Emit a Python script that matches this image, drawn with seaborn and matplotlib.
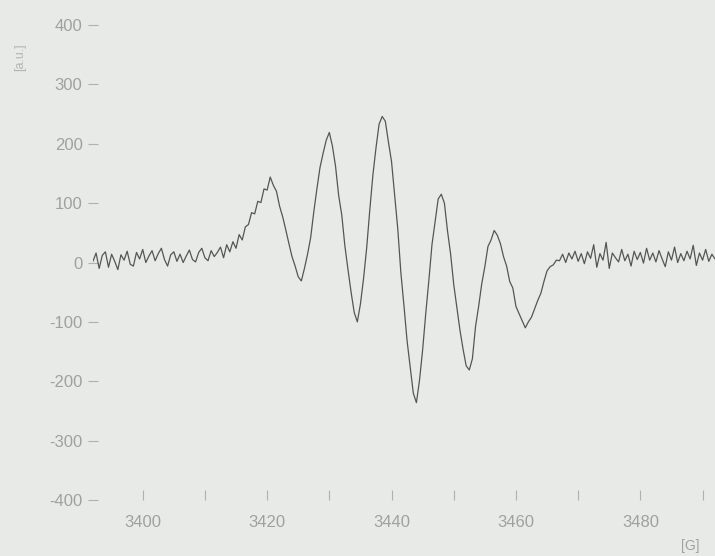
import numpy as np
import pandas as pd
import seaborn as sns
import matplotlib
matplotlib.use("Agg")
import matplotlib.pyplot as plt

# EPR first-derivative spectrum, sampled every 0.5 G from 3392 G to 3492 G
field_start = 3392.0
field_step = 0.5

intensity = [
    # 3392.0 - 3396.5
    2, 16, -10, 12, 18, -8, 14, 2, -12, 13,
    # 3397.0 - 3401.5
    4, 19, -3, -6, 17, 6, 22, 0, 11, 20,
    # 3402.0 - 3406.5
    3, 15, 24, 5, -6, 13, 18, 2, 14, 0,
    # 3407.0 - 3411.5
    11, 21, 5, 1, 17, 24, 8, 3, 20, 10,
    # 3412.0 - 3416.5
    17, 26, 8, 30, 18, 35, 24, 47, 38, 60,
    # 3417.0 - 3421.5
    64, 84, 82, 103, 101, 124, 122, 144, 130, 120,
    # 3422.0 - 3426.5
    95, 77, 55, 32, 10, -6, -24, -31, -10, 14,
    # 3427.0 - 3431.5
    42, 85, 124, 160, 184, 206, 219, 196, 162, 113,
    # 3432.0 - 3436.5
    80, 28, -12, -50, -84, -100, -70, -27, 24, 88,
    # 3437.0 - 3441.5
    147, 193, 233, 246, 238, 203, 170, 113, 57, -17,
    # 3442.0 - 3446.5
    -73, -132, -176, -220, -236, -198, -147, -86, -30, 30,
    # 3447.0 - 3451.5
    68, 107, 115, 100, 53, 14, -37, -76, -114, -146,
    # 3452.0 - 3456.5
    -174, -181, -162, -108, -74, -36, -7, 27, 38, 54,
    # 3457.0 - 3461.5
    46, 32, 10, -6, -32, -43, -74, -86, -98, -110,
    # 3462.0 - 3466.5
    -100, -92, -78, -64, -52, -32, -14, -7, -4, 4,
    # 3467.0 - 3471.5
    3, 14, 0, 16, 6, 19, 2, 15, -2, 18,
    # 3472.0 - 3476.5
    7, 30, -8, 15, 4, 34, -10, 16, 8, 1,
    # 3477.0 - 3481.5
    22, 3, 14, -6, 19, 5, 17, -1, 24, 4,
    # 3482.0 - 3486.5
    16, 1, 20, 6, -7, 18, 4, 26, 0, 15,
    # 3487.0 - 3491.5
    3, 19, 6, 29, -5, 16, 4, 22, 2, 14,
    # 3492.0
    6,
]

field = field_start + field_step * np.arange(len(intensity))

x_major = [3400, 3420, 3440, 3460, 3480]
x_minor = [3410, 3430, 3450, 3470, 3490]
y_ticks = [-400, -300, -200, -100, 0, 100, 200, 300, 400]

df = pd.DataFrame({"field": field, "intensity": intensity})

sns.set_theme(style="white")
plt.rcParams["font.family"] = ["Liberation Sans", "DejaVu Sans"]
plt.rcParams["axes.unicode_minus"] = False

bg = "#e8eae8"
txt = "#a0a0a0"

fig = plt.figure(figsize=(7.15, 5.56), dpi=100, facecolor=bg)
ax = fig.add_axes([0.130, 0.1007, 0.870, 0.8543])
ax.set_facecolor(bg)

sns.lineplot(data=df, x="field", y="intensity", ax=ax,
             color="#454545", linewidth=0.9, alpha=0.9)

ax.set_xlim(3392, 3492)
ax.set_ylim(-400, 400)

ax.set_xticks(x_major)
ax.set_xticklabels([str(v) for v in x_major])
ax.set_xticks(x_minor, minor=True)
ax.set_yticks(y_ticks)
ax.set_yticklabels([str(v) for v in y_ticks])

ax.tick_params(axis="x", which="both", direction="in", length=7, width=0.8,
               color="#b0b0b0", pad=11, labelsize=12, labelcolor=txt, bottom=True)
ax.tick_params(axis="y", which="both", direction="inout", length=7, width=0.8,
               color="#b0b0b0", pad=4, labelsize=12, labelcolor=txt, left=True)

for s in ax.spines.values():
    s.set_visible(False)

ax.set_xlabel("")
ax.set_ylabel("")

fig.text(0.966, 0.005, "[G]", ha="center", va="bottom", fontsize=10, color=txt)
fig.text(0.028, 0.897, "[a.u.]", ha="center", va="center", fontsize=9,
         color="#b4b4b4", rotation=90)

fig.savefig("out.png", dpi=100, facecolor=bg)
